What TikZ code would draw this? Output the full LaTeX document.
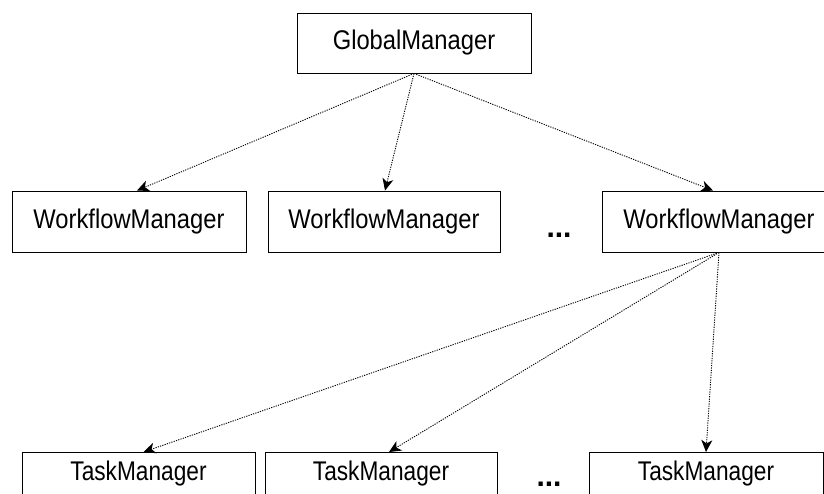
\documentclass[tikz,border=0pt]{standalone}
\usepackage{fontspec}
\usepackage{tikz}
\usetikzlibrary{positioning, arrows.meta, calc}
\newfontfamily\mgrfamily[FakeStretch=0.88]{Liberation Sans}
\newfontfamily\tmfamily[FakeStretch=0.84]{Liberation Sans}
\newfontfamily\dotfamily{Liberation Sans}

\begin{document}
\begin{tikzpicture}[
    x=1pt, y=-1pt,
    mgr/.style={draw=black, line width=0.9pt, minimum height=61pt, inner sep=0pt,
        font=\mgrfamily\fontsize{27}{30}\selectfont},
    task/.style={draw=black, line width=0.9pt, anchor=north, inner xsep=0pt, inner ysep=8pt,
        text height=20pt, text depth=30pt, font=\tmfamily\fontsize{27}{30}\selectfont},
    link/.style={-{Stealth[length=12pt, width=11pt, inset=3.5pt]}, dash pattern=on 1.2pt off 1.2pt, line width=0.9pt},
    more/.style={inner sep=0pt, font=\dotfamily\bfseries\fontsize{30}{32}\selectfont}
]
    \clip (0,0) rectangle (824,493);
    \fill[white] (0,0) rectangle (824,493);

    % top level
    \node[mgr, minimum width=234pt, minimum height=60pt] (gm) at (414,43) {GlobalManager};

    % workflow level
    \node[mgr, minimum width=234pt] (wf1) at (129,221.5) {WorkflowManager};
    \node[mgr, minimum width=232pt] (wf2) at (384,221.5) {WorkflowManager};
    \node[mgr, minimum width=234pt] (wf3) at (719,221.5) {WorkflowManager};
    \node[more] (wfdots) at (559,235) {...};

    % task level (cut off at the bottom)
    \node[task, minimum width=233pt] (tm1) at (138.5,452) {TaskManager};
    \node[task, minimum width=232pt] (tm2) at (381,452) {TaskManager};
    \node[task, minimum width=234pt] (tm3) at (706,452) {TaskManager};
    \node[more] (tmdots) at (549,484) {...};

    % fan-out from the global manager
    \coordinate (gmout) at (gm.south);
    \draw[link] (gmout) -- ($(wf1.north)+(8,0)$);
    \draw[link] (gmout) -- ($(wf2.north)+(1,0)$);
    \draw[link] (gmout) -- ($(wf3.north)+(-6,0)$);

    % fan-out from the last workflow manager
    \coordinate (wfout) at (wf3.south);
    \draw[link] (wfout) -- ($(tm1.north)+(5,0)$);
    \draw[link] (wfout) -- ($(tm2.north)+(8,0)$);
    \draw[link] (wfout) -- (tm3.north);
\end{tikzpicture}
\end{document}
